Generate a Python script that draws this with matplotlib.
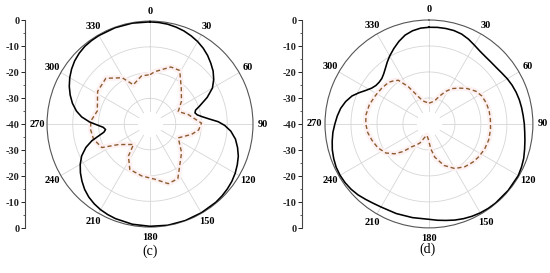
import matplotlib
matplotlib.use('Agg')
import matplotlib.pyplot as plt
import numpy as np

# (c) solid pattern: angle (deg, clockwise from top) and level (dB)
C_SOLID_ANG = [0, 5, 10, 15, 20, 25, 30, 35, 40, 45, 50, 55, 60, 65, 70, 73, 76, 79, 82,
               85, 88, 91, 95, 100, 105, 110, 115, 120, 125, 130, 135, 140, 150, 160,
               170, 180, 190, 200, 205, 210, 215, 220, 225, 230, 235, 240, 245, 250,
               254, 257, 260, 263, 266, 269, 272, 276, 280, 285, 290, 295, 300, 305,
               310, 315, 320, 325, 330, 340, 350, 360]
C_SOLID_DB = [-0.3, -0.4, -0.6, -1.0, -1.5, -2.2, -3.0, -4.0, -5.2, -6.6, -8.0, -9.8,
              -12.0, -15.5, -19.5, -21.5, -22.0, -21.3, -19.5, -17.0, -13.5, -11.0,
              -8.5, -6.3, -4.8, -3.5, -2.6, -1.8, -1.2, -0.8, -0.5, -0.3, -0.2, -0.1,
              -0.1, -0.3, -0.5, -0.9, -1.2, -1.6, -2.2, -3.0, -4.1, -5.5, -7.0, -8.7,
              -10.7, -13.5, -16.5, -19.5, -21.8, -22.6, -21.8, -19.5, -16.5, -13.3,
              -11.0, -8.8, -7.0, -5.4, -4.0, -2.8, -1.8, -1.1, -0.6, -0.4, -0.3, -0.2,
              -0.2, -0.3]

# (c) dashed pattern
C_DASH_ANG = [0, 5, 20, 29, 41, 54, 66, 76, 89, 97, 104, 116, 132, 153, 163, 175, 189,
              204, 214, 219, 237, 244, 255, 265, 273, 284, 302, 316, 329, 337, 350, 360]
C_DASH_DB = [-20.8, -19.6, -16.4, -16.2, -21.5, -24.9, -28.0, -24.7, -20.0, -21.0,
             -23.4, -27.8, -23.5, -16.2, -15.8, -18.5, -19.6, -20.7, -25.0, -29.8,
             -25.4, -19.2, -17.3, -16.8, -17.0, -18.9, -16.0, -15.3, -19.0, -23.4,
             -21.0, -20.8]

# (d) solid pattern
D_SOLID_ANG = [0, 5, 10, 15, 20, 25, 30, 35, 40, 45, 50, 55, 60, 65, 70, 75, 80, 85, 90,
               95, 100, 105, 110, 115, 120, 130, 140, 145, 150, 155, 160, 165, 170, 175,
               180, 190, 200, 210, 215, 220, 225, 230, 235, 240, 245, 250, 255, 260,
               265, 270, 275, 280, 285, 290, 294, 298, 302, 306, 310, 314, 318, 322,
               326, 330, 335, 340, 345, 350, 355, 360]
D_SOLID_DB = [-2.8, -2.7, -2.7, -2.8, -3.2, -4.0, -5.0, -5.8, -6.2, -6.3, -6.2, -5.8,
              -5.2, -4.7, -4.3, -4.0, -3.8, -3.6, -3.3, -3.0, -2.5, -1.9, -1.2, -0.7,
              -0.3, -0.2, -0.2, -0.3, -0.5, -0.8, -1.2, -1.7, -2.3, -2.8, -3.3, -3.4,
              -3.3, -3.1, -2.7, -2.1, -1.4, -0.9, -0.6, -0.5, -0.6, -1.0, -1.5, -2.2,
              -2.9, -3.8, -4.6, -5.5, -6.8, -8.5, -10.5, -12.5, -14.0, -14.8, -15.0,
              -14.8, -14.0, -12.8, -11.3, -9.8, -8.0, -6.2, -4.6, -3.6, -3.0, -2.8]

# (d) dashed pattern
D_DASH_ANG = [0, 8, 15, 21, 27, 33, 40, 47, 55, 62, 70, 78, 86, 95, 105, 114, 123, 131,
              140, 150, 160, 170, 176, 182, 190, 198, 205, 211, 217, 223, 229, 236, 245,
              254, 262, 270, 278, 288, 298, 307, 316, 321, 325, 331, 339, 345, 352, 360]
D_DASH_DB = [-32.0, -31.5, -30.5, -28.5, -26.0, -23.8, -22.0, -20.0, -18.0, -17.0,
             -16.5, -16.3, -16.3, -16.2, -16.2, -16.5, -17.0, -17.6, -18.5, -20.2,
             -23.0, -27.0, -30.5, -34.0, -35.5, -34.5, -32.0, -30.5, -29.0, -25.5,
             -22.5, -20.0, -18.3, -17.2, -16.2, -15.7, -15.5, -15.9, -16.7, -17.2,
             -17.7, -18.6, -19.5, -23.6, -28.8, -30.8, -31.5, -32.0]

ANGLE_TICKS = list(range(0, 360, 30))
SIDE_TICKS = [-40, -30, -20, -10, 0, 10, 20, 30, 40]
SIDE_LABELS = ['0', '-10', '-20', '-30', '-40', '-30', '-20', '-10', '0']

SERIF = 'Liberation Serif'
DASH_COLOR = '#8c5c30'
HALO_COLOR = '#fdf1f2'
GRID_COLOR = '#d6d6d6'


def polar_panel(fig, rect, solid_ang, solid_db, dash_ang, dash_db):
    ax = fig.add_axes(rect, projection='polar')
    ax.set_theta_zero_location('N')
    ax.set_theta_direction(-1)
    ax.set_ylim(-40, 0)
    ax.set_xticks([])
    ax.set_yticks([])
    ax.grid(False)
    # grid circles and spokes with an empty hub
    t = np.linspace(0, 2 * np.pi, 361)
    for r in [-30, -20, -10]:
        ax.plot(t, np.full_like(t, r), color=GRID_COLOR, lw=0.6, zorder=1)
    for a in ANGLE_TICKS:
        ax.plot([np.deg2rad(a)] * 2, [-35, 0], color=GRID_COLOR, lw=0.6, zorder=1)
        ax.text(np.deg2rad(a), 3.9, str(a), ha='center', va='center', clip_on=False,
                fontfamily=SERIF, fontweight='bold', fontsize=7.5)
    ax.spines['polar'].set_color('#555555')
    ax.spines['polar'].set_linewidth(0.8)

    da = np.deg2rad(dash_ang)
    ax.plot(da, dash_db, color=HALO_COLOR, lw=4, zorder=2, solid_capstyle='round')
    ax.plot(da, dash_db, color=DASH_COLOR, lw=1.0, ls=(0, (3, 2)), zorder=3)
    ax.plot(np.deg2rad(solid_ang), solid_db, color='black', lw=1.15, zorder=4)
    return ax


def side_axis(fig, rect):
    ax = fig.add_axes(rect)
    ax.set_ylim(40, -40)
    ax.set_xlim(0, 1)
    for s in ['top', 'right', 'bottom']:
        ax.spines[s].set_visible(False)
    ax.spines['left'].set_linewidth(0.8)
    ax.spines['left'].set_color('#444444')
    ax.set_xticks([])
    ax.set_yticks(SIDE_TICKS)
    ax.set_yticklabels(SIDE_LABELS, fontfamily=SERIF, fontweight='bold', fontsize=7.5)
    ax.set_yticks(np.arange(-35, 40, 10), minor=True)
    ax.tick_params(axis='y', which='major', length=3, width=0.7, pad=1, colors='#222222')
    ax.tick_params(axis='y', which='minor', length=1.8, width=0.6, colors='#444444')
    ax.patch.set_visible(False)
    return ax


fig = plt.figure(figsize=(5.5, 2.73), dpi=100)

polar_panel(fig, [0.0855, 0.168, 0.3745, 0.755], C_SOLID_ANG, C_SOLID_DB, C_DASH_ANG, C_DASH_DB)
polar_panel(fig, [0.5909, 0.165, 0.378, 0.762], D_SOLID_ANG, D_SOLID_DB, D_DASH_ANG, D_DASH_DB)
side_axis(fig, [25 / 550, 45 / 273, 0.01, 208 / 273])
side_axis(fig, [302 / 550, 45 / 273, 0.01, 208 / 273])

fig.text(150 / 550, 1 - 251 / 273, '(c)', fontfamily=SERIF, fontsize=10, ha='center', va='center')
fig.text(428 / 550, 1 - 249 / 273, '(d)', fontfamily=SERIF, fontsize=10, ha='center', va='center')

fig.savefig('out.png', dpi=100)
